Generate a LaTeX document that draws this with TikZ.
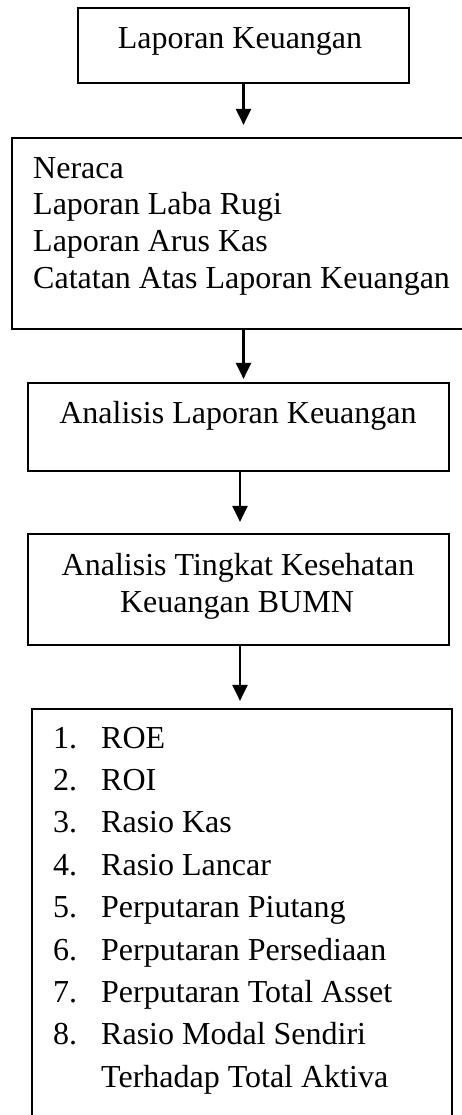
\documentclass[tikz,border=0pt]{standalone}
\usepackage{fontspec}
\setmainfont{Liberation Serif}
\usetikzlibrary{arrows.meta}
\begin{document}
\begin{tikzpicture}[x=1bp,y=-1bp,
  box/.style={draw, line width=2.2bp, inner sep=0pt},
  txt/.style={inner sep=0pt, font=\fontsize{32bp}{36.8bp}\selectfont},
  arr/.style={line width=2.2bp, -{Triangle[width=15bp,length=16bp]}}]
\useasboundingbox (0,0) rectangle (462,1115);
\fill[white] (0,0) rectangle (462,1115);
\clip (0,0) rectangle (462,1115);
% boxes
\node[box, minimum width=331bp, minimum height=75bp] (b1) at (243.5,45.5) {};
\node[box, minimum width=463bp, minimum height=191bp] (b2) at (243.5,233.5) {};
\node[box, minimum width=421bp, minimum height=88bp] (b3) at (238.5,427) {};
\node[box, minimum width=421bp, minimum height=111bp] (b4) at (238.5,589.5) {};
\node[box, minimum width=420bp, minimum height=421bp] (b5) at (242,919.5) {};
% texts
\node[txt, anchor=base] (t1) at (240,48) {Laporan Keuangan};
\foreach \s [count=\i] in {Neraca, Laporan Laba Rugi, Laporan Arus Kas, Catatan Atas Laporan Keuangan}
  \node[txt, anchor=base west] (l\i) at (33,{178+36.7*(\i-1)}) {\s};
\node[txt, anchor=base] (t3) at (238,423) {Analisis Laporan Keuangan};
\node[txt, anchor=base] (t4a) at (238,575) {Analisis Tingkat Kesehatan};
\node[txt, anchor=base] (t4b) at (237,612) {Keuangan BUMN};
\foreach \s [count=\i] in {ROE, ROI, Rasio Kas, Rasio Lancar, Perputaran Piutang, Perputaran Persediaan, Perputaran Total Asset, Rasio Modal Sendiri}
  {\node[txt, anchor=base west] (n\i) at (53,{748+42.4*(\i-1)}) {\i.};
   \node[txt, anchor=base west] (m\i) at (101,{748+42.4*(\i-1)}) {\s};}
\node[txt, anchor=base west] (m9) at (101,1087) {Terhadap Total Aktiva};
% connectors
\draw[arr, shorten >=12bp] (b1.south) -- (b2.north);
\draw[arr, shorten >=3bp] (b2.south) -- (b2.south |- b3.north);
\draw[arr, shorten >=11bp] ([xshift=1.5bp]b3.south) -- ([xshift=1.5bp]b4.north);
\draw[arr, shorten >=7bp] ([xshift=1.5bp]b4.south) -- ([xshift=1.5bp]b4.south |- b5.north);
\end{tikzpicture}
\end{document}
